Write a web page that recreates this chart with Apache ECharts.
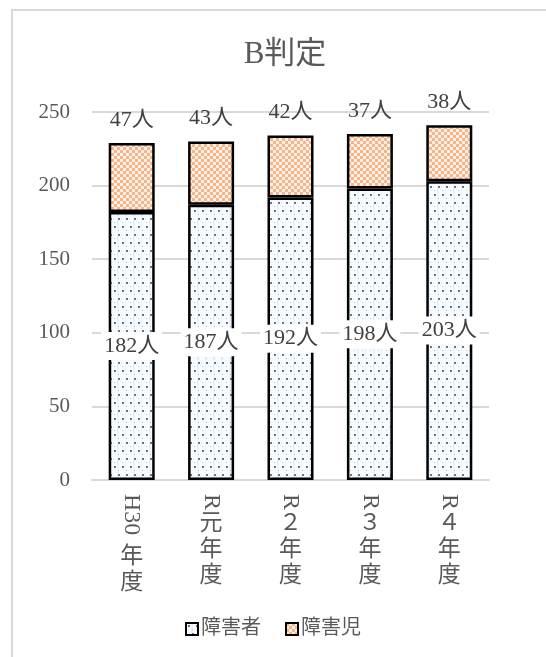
<!DOCTYPE html>
<html>
<head>
<meta charset="utf-8">
<script src="https://cdn.jsdelivr.net/npm/echarts@6/dist/echarts.min.js"></script>
<style>
  html, body { margin: 0; padding: 0; background: #fff; }
  #chart { width: 546px; height: 657px; }
</style>
</head>
<body>
<div id="chart"></div>
<script>
// B判定: 障害者 / 障害児 の人数推移
const categories = ['H30年度', 'R元年度', 'R２年度', 'R３年度', 'R４年度'];
const adults = [182, 187, 192, 198, 203];   // 障害者
const children = [47, 43, 42, 37, 38];      // 障害児
const yMin = 0, yMax = 250, yStep = 50;

const SERIF = '"Liberation Serif", "DejaVu Serif", "Noto Sans CJK JP", serif';
const TEXT = '#595959';

// Fill patterns drawn on small canvases
function dotPattern() {
  const c = document.createElement('canvas');
  c.width = 16; c.height = 16;
  const g = c.getContext('2d');
  g.fillStyle = '#f8fbfe'; g.fillRect(0, 0, 16, 16);
  g.fillStyle = '#e8f3fb'; g.fillRect(5, 0, 2, 16); g.fillRect(13, 0, 1, 16);
  g.fillStyle = '#6b7584';
  [[2, 2], [10, 2], [6, 10], [14, 10]].forEach(p => g.fillRect(p[0], p[1], 2, 2));
  g.fillStyle = '#c0c8d4';
  [[6, 6], [14, 6], [2, 14], [10, 14]].forEach(p => g.fillRect(p[0], p[1], 1, 1));
  return c;
}
function checkerPattern() {
  const c = document.createElement('canvas');
  c.width = 6; c.height = 6;
  const g = c.getContext('2d');
  g.fillStyle = '#fdf1e7'; g.fillRect(0, 0, 6, 6);
  g.fillStyle = '#f6b488';
  g.fillRect(0, 0, 3, 3); g.fillRect(3, 3, 3, 3);
  return c;
}

// Split "H30年度" into the rotated Latin prefix and the upright remainder
function latinPart(s) { const m = s.match(/^[A-Za-z0-9]+/); return m ? m[0] : ''; }
function cjkPart(s) { return s.slice(latinPart(s).length); }

const chart = echarts.init(document.getElementById('chart'));
chart.setOption({
  backgroundColor: '#fff',
  animation: false,
  title: {
    text: 'B判定',
    left: 280, top: 34, textAlign: 'center',
    textStyle: { fontFamily: SERIF, fontSize: 31, fontWeight: 'normal', color: TEXT }
  },
  graphic: [{
    type: 'rect', silent: true,
    shape: { x: 12, y: 10, width: 620, height: 720 },
    style: { fill: 'none', stroke: '#d9d9d9', lineWidth: 2 }
  }],
  legend: {
    bottom: 13, left: 'center',
    itemWidth: 12, itemHeight: 12, itemGap: 24,
    icon: 'rect',
    textStyle: { fontFamily: SERIF, fontSize: 20, color: TEXT, padding: [0, 0, 0, -2] }
  },
  grid: { left: 92, right: 57, top: 112, bottom: 177 },
  xAxis: [{
    type: 'category', data: categories,
    axisLine: { lineStyle: { color: '#d9d9d9', width: 2 } },
    axisTick: { show: false },
    axisLabel: {
      rotate: -90, margin: 14, interval: 0,
      fontFamily: SERIF, fontSize: 24, color: TEXT,
      formatter: v => latinPart(v)
    }
  }, {
    type: 'category', data: categories, position: 'bottom',
    axisLine: { show: false }, axisTick: { show: false },
    axisLabel: {
      margin: 31, interval: 0,
      fontFamily: SERIF, fontSize: 23, lineHeight: 26, color: TEXT,
      formatter: v => {
        const chars = cjkPart(v).split('');
        const pre = latinPart(v).length > 1 ? '{gap| }\n' : '';
        return pre + chars.join('\n');
      },
      rich: { gap: { fontSize: 10, lineHeight: 33 } }
    }
  }],
  yAxis: {
    type: 'value', min: yMin, max: yMax, interval: yStep,
    axisLine: { show: false }, axisTick: { show: false },
    splitLine: { lineStyle: { color: '#d9d9d9', width: 2 } },
    axisLabel: { margin: 22, fontFamily: SERIF, fontSize: 21, color: TEXT }
  },
  series: [{
    name: '障害者', type: 'bar', stack: 'total', data: adults,
    barWidth: 46,
    itemStyle: { color: { image: dotPattern(), repeat: 'repeat' }, borderColor: '#000', borderWidth: 2.5 },
    label: {
      show: true, position: 'inside', formatter: '{c}人',
      fontFamily: SERIF, fontSize: 22, color: '#404040',
      backgroundColor: '#fff', padding: [3, 3]
    }
  }, {
    name: '障害児', type: 'bar', stack: 'total', data: children,
    barWidth: 46,
    itemStyle: { color: { image: checkerPattern(), repeat: 'repeat' }, borderColor: '#000', borderWidth: 2.5 },
    label: {
      show: true, position: 'top', distance: 12, formatter: '{c}人',
      fontFamily: SERIF, fontSize: 22, color: '#404040'
    }
  }]
});
</script>
</body>
</html>
